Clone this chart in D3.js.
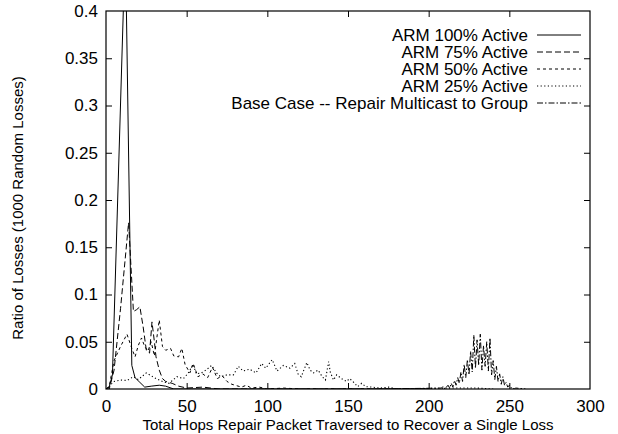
<!DOCTYPE html>
<html>
<head>
<meta charset="utf-8">
<script src="https://cdn.jsdelivr.net/npm/d3@7"></script>
<style>
  html, body { margin: 0; padding: 0; background: #fff; }
  svg { display: block; }
  text { font-family: "Liberation Sans", Arial, Helvetica, sans-serif; fill: #000; }
</style>
</head>
<body>
<svg id="chart" width="618" height="434"></svg>
<script>
// ---- Data ----
const seriesNames = [
  "ARM 100% Active",
  "ARM 75% Active",
  "ARM 50% Active",
  "ARM 25% Active",
  "Base Case -- Repair Multicast to Group"
];

const arm100Hops = [0, 2, 4, 12, 16, 18, 21, 24, 28, 33, 37, 42, 60, 200];
const arm100Vals = [0, 0.002, 0.015, 0.473, 0.025, 0.012, 0.007, 0.002, 0.003, 0.004, 0.003, 0, 0, 0];

const arm75Hops = [0, 2, 5, 9, 14, 17, 19, 21, 23, 25, 27, 28.5, 30, 31, 33, 35, 37, 41, 45, 50, 60, 70, 200];
const arm75Vals = [0, 0, 0.02, 0.085, 0.176, 0.082, 0.084, 0.087, 0.066, 0.041, 0.038, 0.071, 0.05, 0.034, 0.02, 0.011, 0.008, 0.006, 0.003, 0.001, 0.002, 0, 0];

const arm50Hops = [0, 2, 5, 9, 13, 16, 18, 20, 22, 24, 26, 28, 30, 33, 35, 37, 40, 42, 45, 47, 49, 52, 54, 57, 60, 63, 66, 69, 72, 75, 78, 80, 84, 87, 90, 95, 100, 110, 120, 200];
const arm50Vals = [0, 0.003, 0.03, 0.045, 0.058, 0.043, 0.034, 0.046, 0.054, 0.045, 0.04, 0.05, 0.035, 0.073, 0.045, 0.041, 0.043, 0.035, 0.034, 0.043, 0.026, 0.017, 0.027, 0.013, 0.016, 0.012, 0.023, 0.011, 0.014, 0.008, 0.005, 0.004, 0.002, 0.004, 0.001, 0.002, 0, 0.001, 0, 0];

const arm25Hops = [0, 2, 5, 9, 13, 17, 20, 25, 28, 31, 35, 39, 44, 48, 51, 54, 56, 59, 62, 65.5, 68.5, 71, 75, 79, 82, 85, 89, 93, 96.5, 99, 103, 106, 110, 114, 117, 119, 121, 124.5, 126.5, 128.5, 131.5, 134, 136, 138, 139, 141, 143, 146, 149, 151, 153, 156, 158.5, 161, 165, 170, 175, 180, 215, 230, 240];
const arm25Vals = [0, 0.003, 0.008, 0.0095, 0.009, 0.013, 0.01, 0.017, 0.014, 0.011, 0.008, 0.006, 0.013, 0.011, 0.017, 0.026, 0.016, 0.017, 0.02, 0.025, 0.017, 0.013, 0.015, 0.015, 0.024, 0.019, 0.021, 0.017, 0.027, 0.022, 0.031, 0.019, 0.025, 0.022, 0.027, 0.016, 0.013, 0.028, 0.02, 0.017, 0.02, 0.013, 0.0095, 0.029, 0.018, 0.0095, 0.015, 0.011, 0.008, 0.011, 0.008, 0.0025, 0.006, 0.0025, 0.002, 0.001, 0.002, 0, 0.001, 0.001, 0];

const baseHops = [170, 208, 209, 210, 211, 212, 213, 214, 215, 216, 217, 218, 219, 220, 221, 222, 223, 224, 225, 226, 227, 228, 229, 230, 231, 232, 233, 234, 235, 236, 237, 238, 239, 240, 241, 242, 243, 244, 245, 246, 247, 248, 249, 250, 251, 252, 253, 254, 260];
const baseVals = [0, 0.001, 0.003, 0, 0.002, 0.004, 0.001, 0.006, 0.002, 0.009, 0.004, 0.012, 0.006, 0.018, 0.008, 0.026, 0.012, 0.031, 0.015, 0.04, 0.018, 0.057, 0.022, 0.052, 0.025, 0.058, 0.02, 0.046, 0.024, 0.05, 0.019, 0.054, 0.015, 0.03, 0.01, 0.024, 0.008, 0.016, 0.005, 0.013, 0.004, 0.007, 0.002, 0.004, 0.001, 0.002, 0, 0.001, 0];

const xTicks = [0, 50, 100, 150, 200, 250, 300];
const yTicks = [0, 0.05, 0.1, 0.15, 0.2, 0.25, 0.3, 0.35, 0.4];
const yTickLabels = ["0", "0.05", "0.1", "0.15", "0.2", "0.25", "0.3", "0.35", "0.4"];
const xTitle = "Total Hops Repair Packet Traversed to Recover a Single Loss";
const yTitle = "Ratio of Losses (1000 Random Losses)";

// ---- Layout ----
const L = 106, R = 590, T = 11, B = 389;
const svg = d3.select("#chart");
const x = d3.scaleLinear().domain([0, 300]).range([L, R]);
const y = d3.scaleLinear().domain([0, 0.4]).range([B, T]);

const dashes = ["none", "6,3", "3,3", "1.2,2.4", "6,2,1.5,2"];
const widths = [1, 1, 1, 1.1, 1];

svg.append("defs").append("clipPath").attr("id", "clip")
  .append("rect").attr("x", L).attr("y", T).attr("width", R - L).attr("height", B - T);

const series = [
  [arm100Hops, arm100Vals],
  [arm75Hops, arm75Vals],
  [arm50Hops, arm50Vals],
  [arm25Hops, arm25Vals],
  [baseHops, baseVals]
];

const line = d3.line().x(d => x(d[0])).y(d => y(d[1]));
const g = svg.append("g").attr("clip-path", "url(#clip)");
series.forEach((s, i) => {
  const pts = s[0].map((h, j) => [h, s[1][j]]);
  g.append("path").datum(pts)
    .attr("d", line)
    .attr("fill", "none")
    .attr("stroke", "#000")
    .attr("stroke-width", widths[i])
    .attr("stroke-dasharray", dashes[i]);
});

// ---- Axes ----
const fs = 17;
const fsTitle = 15;
const xb = svg.append("g").attr("transform", `translate(0,${B})`)
  .call(d3.axisBottom(x).tickValues(xTicks).tickSize(-6).tickPadding(11).tickFormat(d3.format("d")));
const xt = svg.append("g").attr("transform", `translate(0,${T})`)
  .call(d3.axisTop(x).tickValues(xTicks.slice(1, -1)).tickSize(-6).tickFormat(""));
const yl = svg.append("g").attr("transform", `translate(${L},0)`)
  .call(d3.axisLeft(y).tickValues(yTicks).tickSize(-6).tickPadding(8).tickFormat((d, i) => yTickLabels[i]));
const yr = svg.append("g").attr("transform", `translate(${R},0)`)
  .call(d3.axisRight(y).tickValues(yTicks.slice(1, -1)).tickSize(-6).tickFormat(""));

[xb, xt, yl, yr].forEach(a => {
  a.select(".domain").remove();
  a.selectAll(".tick line").attr("stroke", "#000").attr("stroke-width", 1);
  a.selectAll("text").attr("font-size", fs).attr("font-family", "Liberation Sans, Arial, sans-serif").attr("fill", "#000");
});
xb.selectAll(".tick").filter(d => d === 0 || d === 300).select("line").remove();
yl.selectAll(".tick").filter(d => d === 0 || d === 0.4).select("line").remove();

svg.append("rect").attr("x", L).attr("y", T).attr("width", R - L).attr("height", B - T)
  .attr("fill", "none").attr("stroke", "#000").attr("stroke-width", 1.2);

// ---- Titles ----
svg.append("text").attr("x", 348).attr("y", 430).attr("text-anchor", "middle")
  .attr("font-size", fsTitle).text(xTitle);
svg.append("text").attr("transform", "translate(23,208) rotate(-90)").attr("text-anchor", "middle")
  .attr("font-size", fsTitle).text(yTitle);

// ---- Legend ----
const lg = svg.append("g");
seriesNames.forEach((name, i) => {
  const yy = 35 + 17 * i;
  lg.append("text").attr("x", 528).attr("y", yy).attr("dy", "0.35em")
    .attr("text-anchor", "end").attr("font-size", fs).text(name);
  lg.append("line").attr("x1", 537).attr("x2", 581).attr("y1", yy).attr("y2", yy)
    .attr("stroke", "#000").attr("stroke-width", widths[i]).attr("stroke-dasharray", dashes[i]);
});
</script>
</body>
</html>
